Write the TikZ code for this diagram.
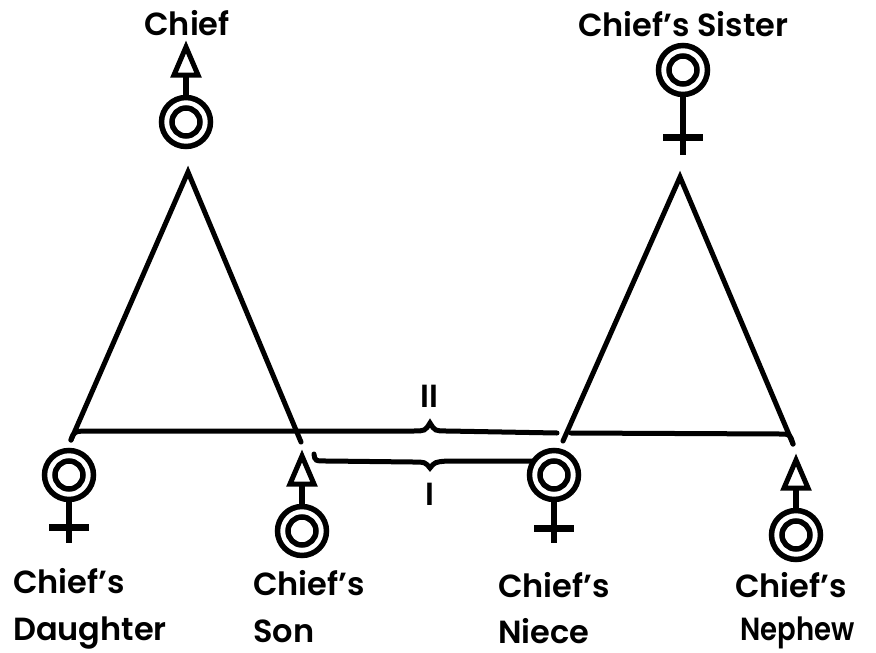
\documentclass[tikz,border=0pt]{standalone}
\usepackage{fontspec}
\usepackage{graphicx}
\setmainfont{Poppins}[UprightFont=* SemiBold]
\usetikzlibrary{calc}
\newcommand\femsym[3]{%
  \draw[sym] (#1) circle[radius=24.5];
  \draw[sym] (#1) circle[radius=14];
  \draw[line width=6pt] ($(#1)+(0,27)$) -- ($(#1)+(0,#2)$);
  \draw[line width=7pt] ($(#1)+(-20,#3)$) -- ($(#1)+(20,#3)$);
}
\newcommand\malsym[1]{%
  \draw[sym] (#1) circle[radius=24.5];
  \draw[sym] (#1) circle[radius=14];
  \draw[line width=6pt] ($(#1)+(0,-27)$) -- ($(#1)+(0,-48)$);
  \draw[line width=5pt, line join=miter] ($(#1)+(-12,-47)$) -- ($(#1)+(0,-75)$) -- ($(#1)+(12,-47)$) -- cycle;
}
\begin{document}
\begin{tikzpicture}[x=1pt,y=-1pt,
  sym/.style={line width=5.5pt},
  leg/.style={line width=5pt, line cap=round},
  brc/.style={line width=5pt, line cap=round},
  lbl/.style={font=\fontsize{32}{38}\selectfont, inner sep=0pt, anchor=base west}]
\useasboundingbox[fill=white] (0,0) rectangle (876,653);
% persons
\coordinate (chief) at (186,122);
\coordinate (sister) at (683,70);
\coordinate (dau) at (69,475);
\coordinate (son) at (302,531);
\coordinate (niece) at (554,475);
\coordinate (neph) at (796,535);
\malsym{chief}
\femsym{sister}{85}{67}
\femsym{dau}{68}{52}
\malsym{son}
\femsym{niece}{68}{53}
\malsym{neph}
% triangles
\coordinate (apexL) at (188,172);
\coordinate (footLL) at (71,440);
\coordinate (footLR) at (301,442);
\coordinate (apexR) at (680,177);
\coordinate (footRL) at (563,441);
\coordinate (footRR) at (793,444);
\draw[leg] (footLL) -- (apexL) -- (footLR);
\draw[leg] (footRL) -- (apexR) -- (footRR);
% brace lines
\coordinate (braceII) at (430,423);
\coordinate (braceI) at (430,468);
\coordinate (gapL) at (557,433);
\coordinate (gapR) at (571,433);
\coordinate (sonI) at (314,454);
\coordinate (nieceI) at (532,461);
\draw[brc] (footLL) .. controls (74,431) .. (92,431) -- (413,431) .. controls (425,431) .. (braceII) .. controls (435,431) .. (447,431) -- (gapL);
\draw[brc] (gapR) -- (780,434) .. controls (790,434) .. (footRR);
\draw[brc] (sonI) .. controls (315,461) .. (327,461) -- (413,462) .. controls (425,462) .. (braceI) .. controls (435,462) .. (447,461) -- (518,461) .. controls (526,461) .. (nieceI);
% labels
\node[lbl, anchor=base] (tII) at (429,407) {II};
\node[lbl, anchor=base] (tI) at (430,505) {I};
\node[lbl, anchor=base] (tchief) at (187,35) {Chief};
\node[lbl] (tsister) at (578,36) {Chief’s Sister};
\node[lbl] (tdau1) at (13,593) {Chief’s};
\node[lbl] (tdau2) at (13,640) {Daughter};
\node[lbl] (tson1) at (253,595) {Chief’s};
\node[lbl] (tson2) at (253,642) {Son};
\node[lbl] (tnie1) at (498,597) {Chief’s};
\node[lbl] (tnie2) at (498,643) {Niece};
\node[lbl] (tnep1) at (735,597) {Chief’s};
\node[lbl] (tnep2) at (740,640) {\scalebox{0.86}[1]{Nephew}};
\end{tikzpicture}
\end{document}
